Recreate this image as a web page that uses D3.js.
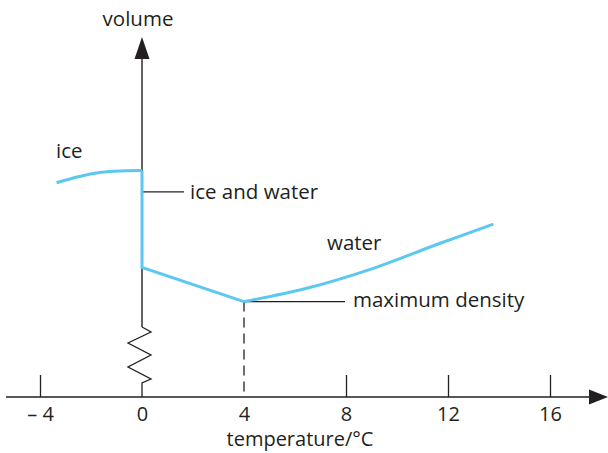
<!DOCTYPE html>
<html>
<head>
<meta charset="utf-8">
<script src="https://cdn.jsdelivr.net/npm/d3@7"></script>
<style>
  html, body { margin: 0; padding: 0; background: #fff; }
  svg { display: block; }
  text { font-family: "Open Sans", sans-serif; fill: #231f20; }
</style>
</head>
<body>
<svg id="chart" width="608" height="453"></svg>
<script>
// ---- data ----
const tickValues = [-4, 0, 4, 8, 12, 16];
const tickLabels = ["\u2013 4", "0", "4", "8", "12", "16"];
const iceTemp   = [-3.35, -2.5, -1.6, -0.8, 0];
const iceVolume = [59.5, 61.2, 62.4, 62.8, 62.9];
const meltTemp   = [0, 0, 4];
const meltVolume = [62.9, 36.0, 26.5];
const waterTemp   = [4, 6.46, 9.07, 11.69, 13.78];
const waterVolume = [26.5, 30.2, 35.75, 42.7, 48.0];
const maxDensityTemp = 4, maxDensityVolume = 26.5;
const iceWaterLabelVolume = 57.0;

// ---- layout ----
const svg = d3.select("#chart");
const ink = "#231f20", blue = "#5cc8f2";
const x = d3.scaleLinear().domain([-4, 16]).range([40, 550]);
const y = d3.scaleLinear().domain([0, 100]).range([397, 37]);
const axisY = y(0), axisX = x(0);

// x axis line + arrow
svg.append("line").attr("x1", 6).attr("x2", 592).attr("y1", axisY).attr("y2", axisY)
  .attr("stroke", ink).attr("stroke-width", 1.4);
svg.append("path").attr("d", `M608,${axisY} L589,${axisY-7.5} L589,${axisY+7.5} Z`).attr("fill", ink);

// x ticks via d3 axis
const xAxis = d3.axisBottom(x).tickValues(tickValues)
  .tickFormat((d, i) => tickLabels[i]).tickSizeInner(-22).tickSizeOuter(0).tickPadding(0);
const gx = svg.append("g").attr("transform", `translate(0,${axisY})`).call(xAxis);
gx.select(".domain").remove();
gx.selectAll(".tick line").attr("stroke", ink).attr("stroke-width", 1.3);
gx.selectAll(".tick").filter(d => d === 0 || d === 4).select("line").remove();
gx.selectAll(".tick text").attr("font-size", 20).attr("font-family", "Open Sans, sans-serif")
  .attr("fill", ink).attr("y", 24).attr("dy", null);

svg.append("text").attr("x", 300).attr("y", 446).attr("text-anchor", "middle")
  .attr("font-size", 20).text("temperature/\u00b0C");

// y axis with break
const breakTop = 327;
svg.append("line").attr("x1", axisX).attr("x2", axisX).attr("y1", 58).attr("y2", breakTop)
  .attr("stroke", ink).attr("stroke-width", 1.4);
const zig = [[0,327],[9,332],[-14,343],[9,355],[-14,367],[9,379],[0,383],[0,axisY]];
svg.append("path").attr("d", d3.line()(zig.map(p => [axisX + p[0], p[1]])))
  .attr("fill", "none").attr("stroke", ink).attr("stroke-width", 1.3).attr("stroke-linejoin", "miter");
svg.append("path").attr("d", `M${axisX},37 L${axisX-7.5},59 L${axisX+7.5},59 Z`).attr("fill", ink);
svg.append("text").attr("x", axisX - 4).attr("y", 26).attr("text-anchor", "middle")
  .attr("font-size", 20.5).text("volume");

// dashed drop line at maximum density
svg.append("line").attr("x1", x(maxDensityTemp)).attr("x2", x(maxDensityTemp))
  .attr("y1", y(maxDensityVolume)).attr("y2", axisY)
  .attr("stroke", ink).attr("stroke-width", 1.3).attr("stroke-dasharray", "10,6");
// leader lines
svg.append("line").attr("x1", x(maxDensityTemp)).attr("x2", 345)
  .attr("y1", y(maxDensityVolume)).attr("y2", y(maxDensityVolume))
  .attr("stroke", ink).attr("stroke-width", 1.3);
svg.append("line").attr("x1", axisX + 1).attr("x2", 184)
  .attr("y1", y(iceWaterLabelVolume)).attr("y2", y(iceWaterLabelVolume))
  .attr("stroke", ink).attr("stroke-width", 1.3);

// curves
const lineCurve = d3.line().x(d => x(d[0])).y(d => y(d[1])).curve(d3.curveCatmullRom.alpha(0.5));
const lineStraight = d3.line().x(d => x(d[0])).y(d => y(d[1]));
svg.append("path").attr("d", lineCurve(d3.zip(iceTemp, iceVolume)))
  .attr("fill", "none").attr("stroke", blue).attr("stroke-width", 3);
svg.append("path").attr("d", lineStraight(d3.zip(meltTemp, meltVolume)))
  .attr("fill", "none").attr("stroke", blue).attr("stroke-width", 3).attr("stroke-linejoin", "miter");
svg.append("path").attr("d", lineCurve(d3.zip(waterTemp, waterVolume)))
  .attr("fill", "none").attr("stroke", blue).attr("stroke-width", 3);

// labels
svg.append("text").attr("x", 56).attr("y", 158).attr("font-size", 20.5).text("ice");
svg.append("text").attr("x", 190).attr("y", 199).attr("font-size", 20.5).text("ice and water");
svg.append("text").attr("x", 327).attr("y", 250).attr("font-size", 20.5).text("water");
svg.append("text").attr("x", 353).attr("y", 307).attr("font-size", 20.5).text("maximum density");
</script>
</body>
</html>
